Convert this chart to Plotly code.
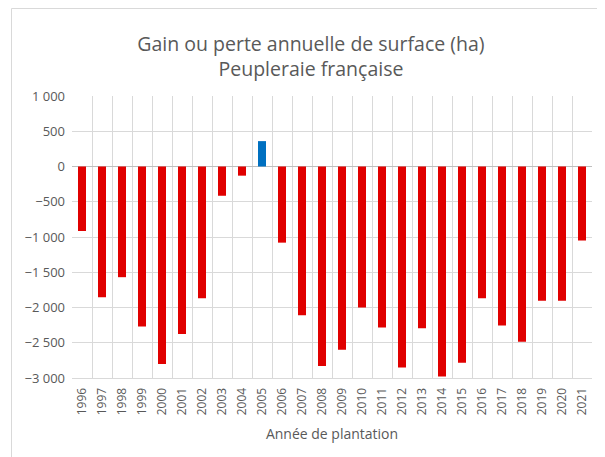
import plotly.graph_objects as go

years = [str(y) for y in range(1996, 2022)]
surface_change = [-915, -1855, -1570, -2270, -2800, -2375, -1870, -415, -130, 360,
                  -1080, -2110, -2830, -2600, -2000, -2285, -2850, -2295, -2980, -2785,
                  -1870, -2255, -2485, -1905, -1905, -1050]

RED = "#E00000"
BLUE = "#0070C0"
colors = [BLUE if v > 0 else RED for v in surface_change]

fig = go.Figure(go.Bar(x=years, y=surface_change, marker=dict(color=colors, line=dict(width=0))))

# page body has an 8px margin, so the figure is drawn 8px smaller and offset
W, H = 597, 449
ml, mr, mt, mb = 64, 13, 88, 79
pw, ph = W - ml - mr, H - mt - mb

def px_to_paper_x(px):
    return (px - ml) / pw

def px_to_paper_y(py):
    return (H - mb - py) / ph

fig.update_layout(
    width=W, height=H,
    margin=dict(l=ml, r=mr, t=mt, b=mb),
    paper_bgcolor="white", plot_bgcolor="white",
    separators=", ",
    bargap=0.6,
    showlegend=False,
    font=dict(family="Open Sans", color="#595959"),
    title=dict(
        text="Gain ou perte annuelle de surface (ha)<br>Peupleraie française",
        x=0.5075, xanchor="center", y=0.904, yanchor="middle",
        font=dict(size=19.5, color="#595959", family="Open Sans"),
    ),
    xaxis=dict(
        type="category", tickson="boundaries", showgrid=True, gridcolor="#d9d9d9", gridwidth=1,
        ticks="", tickangle=-90, tickfont=dict(size=12, color="#595959"),
        ticklabelstandoff=4,
        showline=True, linecolor="#d9d9d9", linewidth=1,
        title=dict(text="Année de plantation", font=dict(size=14, color="#595959"), standoff=14),
    ),
    yaxis=dict(
        range=[-3000, 1000], dtick=500, tickformat=",d", showgrid=True, gridcolor="#d9d9d9",
        zeroline=True, zerolinecolor="#bfbfbf", zerolinewidth=1,
        ticks="", tickfont=dict(size=13, color="#595959"), showline=False,
        ticklabelstandoff=6,
    ),
    shapes=[dict(
        type="rect", xref="paper", yref="paper",
        x0=px_to_paper_x(3.5), x1=px_to_paper_x(610),
        y0=px_to_paper_y(470), y1=px_to_paper_y(0.5),
        line=dict(color="#d9d9d9", width=1), fillcolor="rgba(0,0,0,0)", layer="below",
    )],
)

fig.write_html("out.html")
